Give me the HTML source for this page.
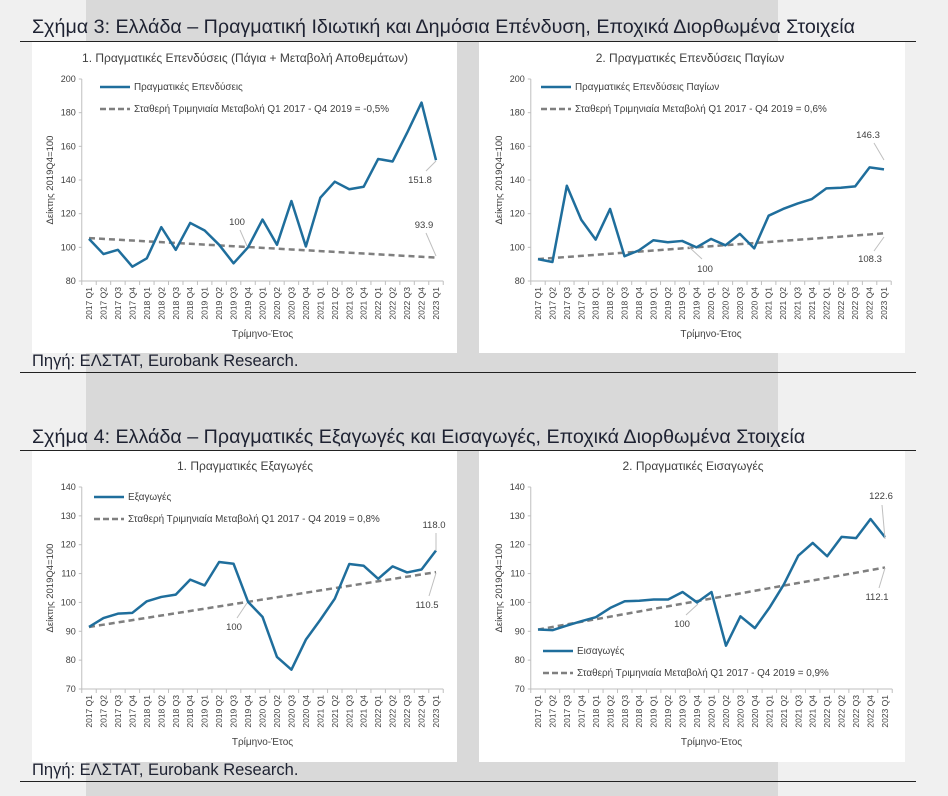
<!DOCTYPE html>
<html><head><meta charset="utf-8">
<style>
body{margin:0;width:948px;height:796px;overflow:hidden;background:#f0f0f0;font-family:"Liberation Sans","DejaVu Sans",sans-serif;}
#bg{position:absolute;left:86px;top:0;width:692px;height:796px;background:#d9d9d9;}
.t{position:absolute;left:32px;font-size:19.7px;color:#1e2232;white-space:nowrap;}
.src{position:absolute;left:32px;font-size:16.5px;color:#1e2232;white-space:nowrap;}
.ln{position:absolute;left:20px;width:896px;height:1px;background:#222;}
.p{position:absolute;background:#fff;}
svg{position:absolute;left:0;top:0;}
</style></head><body>
<div id="bg"></div>
<div class="t" style="top:16px">Σχήμα 3: Ελλάδα – Πραγματική Ιδιωτική και Δημόσια Επένδυση, Εποχικά Διορθωμένα Στοιχεία</div>
<div class="ln" style="top:41px"></div>
<div class="p" style="left:32px;top:42px;width:425px;height:311px"></div>
<div class="p" style="left:479px;top:42px;width:426px;height:311px"></div>
<div class="src" style="top:352px">Πηγή: ΕΛΣΤΑΤ, Eurobank Research.</div>
<div class="ln" style="top:372px"></div>
<div class="t" style="top:426px">Σχήμα 4: Ελλάδα – Πραγματικές Εξαγωγές και Εισαγωγές, Εποχικά Διορθωμένα Στοιχεία</div>
<div class="ln" style="top:450px"></div>
<div class="p" style="left:32px;top:451px;width:425px;height:311px"></div>
<div class="p" style="left:479px;top:451px;width:426px;height:311px"></div>
<div class="src" style="top:761px">Πηγή: ΕΛΣΤΑΤ, Eurobank Research.</div>
<div class="ln" style="top:781px"></div>
<svg id="s" width="948" height="796" font-family="Liberation Sans, DejaVu Sans, sans-serif"></svg>
<script>
var cats=[];for(var y=2017;y<=2023;y++)for(var q=1;q<=4;q++){if(cats.length<25)cats.push(y+" Q"+q);}
var out="";
function chart(c){
 var sp=(c.xl-c.x0)/24, ax=c.x0-sp/2, axr=c.xl+sp/2;
 function Y(v){return c.yt+(c.ymax-v)/(c.ymax-c.ymin)*(c.yb-c.yt);}
 function X(i){return c.x0+i*sp;}
 out+='<text x="'+c.cx+'" y="'+c.sy+'" font-size="12" fill="#404040" text-anchor="middle">'+c.title+'</text>';
 out+='<line x1="'+ax+'" y1="'+c.yt+'" x2="'+ax+'" y2="'+c.yb+'" stroke="#bfbfbf"/>';
 out+='<line x1="'+ax+'" y1="'+c.yb+'" x2="'+axr+'" y2="'+c.yb+'" stroke="#bfbfbf"/>';
 for(var v=c.ymin;v<=c.ymax;v+=c.step){var yy=Y(v);
  out+='<line x1="'+(ax-3)+'" y1="'+yy+'" x2="'+ax+'" y2="'+yy+'" stroke="#bfbfbf"/>';
  out+='<text x="'+(ax-6)+'" y="'+(yy+3)+'" font-size="9" fill="#404040" text-anchor="end">'+v+'</text>';}
 for(var i=0;i<=25;i++){var xx=ax+i*sp;out+='<line x1="'+xx+'" y1="'+c.yb+'" x2="'+xx+'" y2="'+(c.yb+4)+'" stroke="#bfbfbf"/>';}
 for(var i=0;i<25;i++){out+='<text transform="translate('+(X(i)+3)+','+(c.yb+6)+') rotate(-90)" font-size="8.5" fill="#404040" text-anchor="end">'+cats[i]+'</text>';}
 out+='<text x="'+((ax+axr)/2)+'" y="'+(c.yb+56)+'" font-size="10" fill="#404040" text-anchor="middle">Τρίμηνο-Έτος</text>';
 out+='<text transform="translate('+(ax-29)+','+((c.yt+c.yb)/2)+') rotate(-90)" font-size="9.5" fill="#404040" text-anchor="middle">Δείκτης 2019Q4=100</text>';
 var t0=c.tr[0], t1=c.tr[1];
 var p="";for(var i=0;i<25;i++)p+=(i?"L":"M")+X(i)+","+Y(t0+(t1-t0)*i/24);
 out+='<path d="'+p+'" fill="none" stroke="#7f7f7f" stroke-width="2.5" stroke-dasharray="6,4"/>';
 p="";for(var i=0;i<25;i++)p+=(i?"L":"M")+X(i)+","+Y(c.d[i]);
 out+='<path d="'+p+'" fill="none" stroke="#1f6e9c" stroke-width="2.5" stroke-linejoin="round"/>';
 var L=c.leg;
 out+='<line x1="'+L[0]+'" y1="'+L[1]+'" x2="'+(L[0]+30)+'" y2="'+L[1]+'" stroke="#1f6e9c" stroke-width="2.5"/>';
 out+='<text x="'+(L[0]+34)+'" y="'+(L[1]+3)+'" font-size="9.9" fill="#404040">'+c.l1+'</text>';
 out+='<line x1="'+L[0]+'" y1="'+L[2]+'" x2="'+(L[0]+30)+'" y2="'+L[2]+'" stroke="#7f7f7f" stroke-width="2.5" stroke-dasharray="6,3"/>';
 out+='<text x="'+(L[0]+34)+'" y="'+(L[2]+3)+'" font-size="9.9" fill="#404040">'+c.l2+'</text>';
 c.ann.forEach(function(a){out+='<line x1="'+a[3]+'" y1="'+a[4]+'" x2="'+a[5]+'" y2="'+a[6]+'" stroke="#bfbfbf"/><text x="'+a[1]+'" y="'+(a[2]+3)+'" font-size="9.5" fill="#404040" text-anchor="middle">'+a[0]+'</text>';});
}
var L2="Σταθερή Τριμηνιαία Μεταβολή Q1 2017 - Q4 2019 = ";
chart({x0:89,xl:436,yt:79,yb:281,ymin:80,ymax:200,step:20,cx:245,sy:62,title:"1. Πραγματικές Επενδύσεις (Πάγια + Μεταβολή Αποθεμάτων)",
 d:[105,96,98.5,88.5,93.5,112,98.5,114.5,110,101.5,90.5,100,116.5,101.5,127.5,100.5,129.5,139,134.5,136,152.5,151,168,186,151.8],tr:[105.5,93.9],
 leg:[100,87,109],l1:"Πραγματικές Επενδύσεις",l2:L2+"-0,5%",
 ann:[["100",237,222,240,230,247,246],["93.9",424,225,426,233,436,256],["151.8",420,180,426,171,436,161]]});
chart({x0:538,xl:884,yt:79,yb:281,ymin:80,ymax:200,step:20,cx:690,sy:62,title:"2. Πραγματικές Επενδύσεις Παγίων",
 d:[93,91.3,136.6,116.4,104.6,122.8,94.7,98.2,104.2,103,103.8,100,105,101.2,108,99.4,118.8,122.8,126,128.7,135,135.4,136.2,147.5,146.3],tr:[93,108.3],
 leg:[541,87,109],l1:"Πραγματικές Επενδύσεις Παγίων",l2:L2+"0,6%",
 ann:[["146.3",868,135,874,143,884,160],["108.3",870,259,874,251,884,237],["100",705,269,702,259,689,247]]});
chart({x0:89,xl:436,yt:487,yb:689,ymin:70,ymax:140,step:10,cx:245,sy:470,title:"1. Πραγματικές Εξαγωγές",
 d:[91.5,94.6,96.1,96.4,100.4,101.9,102.7,107.9,105.9,114,113.4,100.2,95,81.1,76.7,87.1,94,101.3,113.3,112.7,108.2,112.5,110.4,111.4,118],tr:[91.5,110.5],
 leg:[94,497,519],l1:"Εξαγωγές",l2:L2+"0,8%",
 ann:[["118.0",434,525,436,533,436,551],["110.5",427,605,429,596,436,573],["100",234,627,237,618,247,603]]});
chart({x0:538,xl:885,yt:487,yb:689,ymin:70,ymax:140,step:10,cx:693,sy:470,title:"2. Πραγματικές Εισαγωγές",
 d:[90.6,90.4,92,93.5,94.9,98.1,100.4,100.6,101,101,103.6,100,103.6,85,95.2,91.1,98.1,106.2,116.2,120.6,116,122.7,122.3,128.9,122.6],tr:[90.6,112.1],
 leg:[543,651,673],l1:"Εισαγωγές",l2:L2+"0,9%",
 ann:[["122.6",881,496,882,505,885,539],["112.1",877,597,879,588,885,568],["100",682,624,686,615,698,604]]});
document.getElementById("s").innerHTML=out;
</script>
</body></html>
